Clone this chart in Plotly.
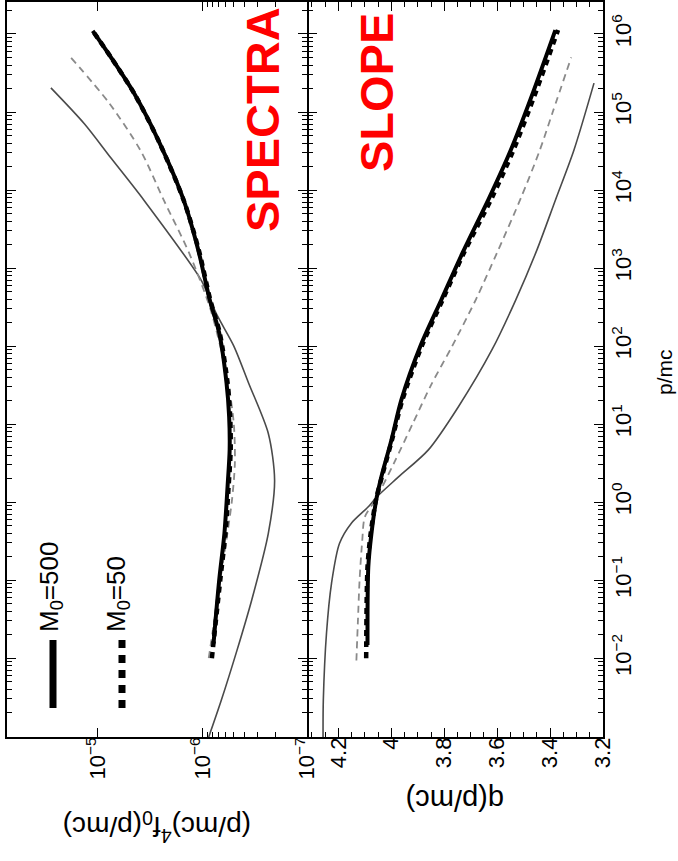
import plotly.graph_objects as go

# ---- spectra panel: log10(p/mc) and log10((p/mc)^4 f0) ----
spec_m500_logp = [-1.81, -1.0, -0.40, 0.20, 0.67, 1.10, 1.53, 2.17, 2.59, 3.23, 3.87, 4.63, 5.23, 5.70, 6.04]
spec_m500_logf = [-6.106, -6.16, -6.21, -6.24, -6.26, -6.255, -6.23, -6.16, -6.07, -5.96, -5.82, -5.58, -5.35, -5.125, -4.95]

spec_m50_logp = [-2.0, -1.0, -0.40, 0.20, 0.67, 1.10, 1.53, 2.17, 2.59, 3.23, 3.87, 4.63, 5.23, 5.70, 6.04]
spec_m50_logf = [-6.09, -6.17, -6.22, -6.25, -6.27, -6.265, -6.24, -6.165, -6.075, -5.965, -5.82, -5.58, -5.35, -5.125, -4.95]

spec_dash_logp = [-2.0, -1.0, 0.0, 0.5, 1.0, 1.5, 2.0, 2.5, 3.2, 3.87, 4.50, 5.11, 5.70]
spec_dash_logf = [-6.06, -6.17, -6.28, -6.31, -6.30, -6.25, -6.17, -6.07, -5.87, -5.63, -5.41, -5.11, -4.74]

spec_thin_logp = [-3.01, -2.54, -1.90, -1.26, -0.40, 0.28, 0.88, 1.53, 2.0, 2.37, 2.60, 2.84, 3.87, 4.41, 4.85, 5.31]
spec_thin_logf = [-6.06, -6.18, -6.33, -6.47, -6.63, -6.69, -6.63, -6.44, -6.30, -6.15, -6.07, -5.99, -5.44, -5.125, -4.87, -4.55]

# ---- slope panel: log10(p/mc) and q(p/mc) ----
slope_m500_logp = [-1.83, -0.83, -0.40, 0.03, 0.32, 0.79, 1.31, 2.0, 2.6, 3.2, 3.9, 4.5, 5.2, 6.05]
slope_m500_q = [4.09, 4.087, 4.075, 4.057, 4.038, 4.00, 3.962, 3.89, 3.81, 3.73, 3.63, 3.55, 3.47, 3.38]

slope_m50_logp = [-2.0, -0.83, -0.40, 0.03, 0.32, 0.79, 1.31, 2.0, 2.6, 3.2, 3.9, 4.5, 5.2, 6.05]
slope_m50_q = [4.095, 4.09, 4.078, 4.058, 4.036, 3.998, 3.958, 3.885, 3.805, 3.725, 3.62, 3.54, 3.46, 3.37]

slope_dash_logp = [-2.03, -1.5, -1.0, -0.5, -0.19, 0.03, 0.5, 1.0, 1.5, 2.0, 2.6, 3.2, 3.9, 4.5, 5.0, 5.7]
slope_dash_q = [4.132, 4.126, 4.12, 4.11, 4.10, 4.06, 3.99, 3.92, 3.85, 3.77, 3.68, 3.60, 3.51, 3.44, 3.39, 3.32]

slope_thin_logp = [-3.01, -2.54, -1.68, -1.04, -0.53, -0.27, -0.06, 0.06, 0.32, 0.67, 1.22, 1.95, 2.59, 3.23, 3.87, 4.51, 5.37]
slope_thin_q = [4.258, 4.257, 4.245, 4.226, 4.196, 4.151, 4.087, 4.057, 3.974, 3.86, 3.747, 3.62, 3.53, 3.45, 3.38, 3.31, 3.234]

# ---- axis ticks ----
spec_ticks = [1e-7, 1e-6, 1e-5]
spec_ticktext = ["10<sup>−7</sup>", "10<sup>−6</sup>", "10<sup>−5</sup>"]
q_ticks = [3.2, 3.4, 3.6, 3.8, 4.0, 4.2]
q_ticktext = ["3.2", "3.4", "3.6", "3.8", "4", "4.2"]
p_exponents = [-2, -1, 0, 1, 2, 3, 4, 5, 6]

FONT = "Liberation Sans, Arial, sans-serif"
W, H = 678, 861
L, R, T, B = 7, 75, 2, 124
PW, PH = W - L - R, H - T - B
LW = 1.5
SPLIT = 300 / PW
SPLIT2 = SPLIT + LW / PW   # lets the two divider lines fall on the same pixels


def px(x):
    return (x - L) / PW


def py(y):
    return (H - B - y) / PH


def pow10(vals):
    return [10 ** v for v in vals]


fig = go.Figure()

thin = dict(color="#4a4a4a", width=1.6)
dash = dict(color="#8a8a8a", width=1.8, dash="7px,5px")
thick = dict(color="black", width=4)
dotted = dict(color="black", width=4.5, dash="6px,5px")

# spectra
fig.add_trace(go.Scatter(x=pow10(spec_thin_logf), y=pow10(spec_thin_logp), mode="lines",
                         line=dict(**thin, shape="spline", smoothing=0.8), xaxis="x", yaxis="y"))
fig.add_trace(go.Scatter(x=pow10(spec_dash_logf), y=pow10(spec_dash_logp), mode="lines",
                         line=dict(**dash, shape="spline", smoothing=0.8), xaxis="x", yaxis="y"))
fig.add_trace(go.Scatter(x=pow10(spec_m500_logf), y=pow10(spec_m500_logp), mode="lines",
                         line=dict(**thick, shape="spline", smoothing=0.8), xaxis="x", yaxis="y"))
fig.add_trace(go.Scatter(x=pow10(spec_m50_logf), y=pow10(spec_m50_logp), mode="lines",
                         line=dict(**dotted, shape="spline", smoothing=0.8), xaxis="x", yaxis="y"))

# slope
fig.add_trace(go.Scatter(x=slope_thin_q, y=pow10(slope_thin_logp), mode="lines",
                         line=dict(**thin, shape="spline", smoothing=0.8), xaxis="x2", yaxis="y2"))
fig.add_trace(go.Scatter(x=slope_dash_q, y=pow10(slope_dash_logp), mode="lines",
                         line=dict(**dash, shape="spline", smoothing=0.8), xaxis="x2", yaxis="y2"))
fig.add_trace(go.Scatter(x=slope_m500_q, y=pow10(slope_m500_logp), mode="lines",
                         line=dict(**thick, shape="spline", smoothing=0.8), xaxis="x2", yaxis="y2"))
fig.add_trace(go.Scatter(x=slope_m50_q, y=pow10(slope_m50_logp), mode="lines",
                         line=dict(**dotted, shape="spline", smoothing=0.8), xaxis="x2", yaxis="y2"))

tickfont = dict(family=FONT, size=22, color="black")
axis_common = dict(showline=True, linecolor="black", linewidth=LW, mirror="ticks",
                   ticks="inside", tickcolor="black", tickwidth=1.2, ticklen=9,
                   showgrid=False, zeroline=False, automargin=False, tickfont=tickfont)

p_minor = [m * 10 ** k for k in range(-3, 7) for m in range(2, 10)]
p_major = [10 ** k for k in p_exponents]
p_text = ["10<sup>%s</sup>" % (str(k).replace("-", "−")) for k in p_exponents]
spec_minor = [m * 1e-7 for m in range(2, 10)]
q_minor = [3.25, 3.3, 3.35, 3.45, 3.5, 3.55, 3.65, 3.7, 3.75, 3.85, 3.9, 3.95, 4.05, 4.1, 4.15, 4.25, 4.3]
minor_style = dict(ticks="inside", ticklen=5, tickcolor="black", tickwidth=1.2, showgrid=False)

fig.update_layout(
    width=W, height=H,
    margin=dict(l=L, r=R, t=T, b=B),
    paper_bgcolor="white", plot_bgcolor="white",
    showlegend=False,
    xaxis=dict(**axis_common, type="log", domain=[0, SPLIT], range=[-4.13, -7.0],
               tickvals=spec_ticks, ticktext=spec_ticktext, tickangle=-90, anchor="y",
               ticklabelstandoff=-10,
               minor=dict(**minor_style, tickvals=spec_minor)),
    xaxis2=dict(**axis_common, domain=[SPLIT2, 1], range=[4.313, 3.2],
                tickvals=q_ticks, ticktext=q_ticktext, tickangle=-90, anchor="y2",
                ticklabelstandoff=-10,
                minor=dict(**minor_style, tickvals=q_minor)),
    yaxis=dict(**axis_common, type="log", range=[-3.01, 6.41], domain=[0, 1], anchor="x",
               tickvals=p_major, showticklabels=False,
               minor=dict(**minor_style, tickvals=p_minor)),
    yaxis2=dict(**axis_common, type="log", range=[-3.01, 6.41], domain=[0, 1], anchor="x2",
                side="right", tickvals=p_major, ticktext=p_text, tickangle=-90,
                minor=dict(**minor_style, tickvals=p_minor)),
)

ann = []


def text(x, y, s, size, angle, color="black", bold=False):
    ann.append(dict(x=px(x), y=py(y), xref="paper", yref="paper", text=s, showarrow=False,
                    textangle=angle, xanchor="center", yanchor="middle",
                    font=dict(family=FONT, size=size, color=color,
                              weight="bold" if bold else "normal")))


# axis titles
text(157, 827, "(p/mc)<sup>4</sup>f<sub>0</sub>(p/mc)", 28, 180)
text(455, 800, "q(p/mc)", 29, 180)
text(664, 372, "p/mc", 21, -90)

# panel labels
text(262, 120, "SPECTRA", 47, -90, color="#ff0000", bold=True)
text(376, 93, "SLOPE", 47, -90, color="#ff0000", bold=True)

# legend
text(50, 587, "M<sub>0</sub>=500", 26, -90)
text(117, 594, "M<sub>0</sub>=50", 26, -90)

fig.update_layout(annotations=ann)

fig.add_shape(type="line", xref="paper", yref="paper", x0=px(53), x1=px(53),
              y0=py(640), y1=py(708), line=dict(color="black", width=7))
fig.add_shape(type="line", xref="paper", yref="paper", x0=px(122), x1=px(122),
              y0=py(640), y1=py(708), line=dict(color="black", width=7, dash="8px,7px"))

fig.write_html("out.html")
